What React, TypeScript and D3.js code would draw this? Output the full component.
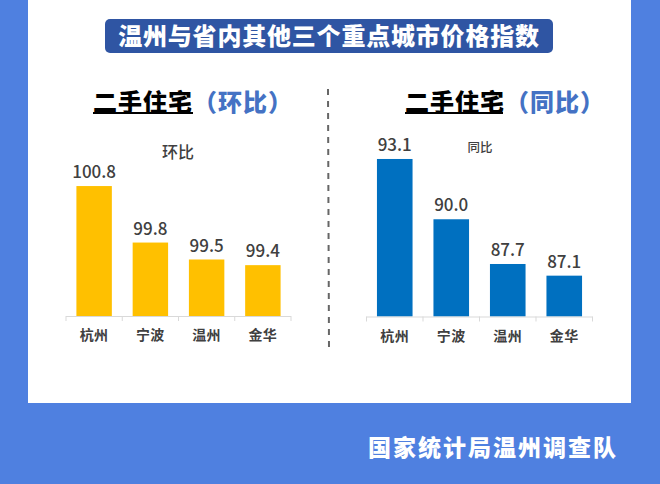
import React from "react";
import * as d3 from "d3";

const cities = ["杭州", "宁波", "温州", "金华"];
const hbValues = [100.8, 99.8, 99.5, 99.4];
const tbValues = [93.1, 90.0, 87.7, 87.1];
const hbDomain = [98.5, 101];
const tbDomain = [85, 93.5];
const titleText = "温州与省内其他三个重点城市价格指数";
const headerMain = "二手住宅";
const hbHeader = "（环比）";
const tbHeader = "（同比）";
const hbSub = "环比";
const tbSub = "同比";
const footerText = "国家统计局温州调查队";

const FONT = "'Noto Sans CJK SC', 'Noto Sans', sans-serif";

type PanelProps = {
  values: number[];
  domain: number[];
  x0: number;
  x1: number;
  yBase: number;
  yTop: number;
  color: string;
};

function BarPanel({ values, domain, x0, x1, yBase, yTop, color }: PanelProps) {
  const x = d3.scaleBand<string>().domain(cities).range([x0, x1]).paddingInner(0.37).paddingOuter(0.185);
  const y = d3.scaleLinear().domain(domain).range([yBase, yTop]);
  const step = x.step();
  const bounds = d3.range(cities.length + 1).map((i) => x0 + i * step);
  return (
    <g>
      {values.map((v, i) => (
        <rect key={i} x={x(cities[i])} y={y(v)} width={x.bandwidth()} height={yBase - y(v)} fill={color} />
      ))}
      <line x1={x0} x2={x1} y1={yBase + 0.5} y2={yBase + 0.5} stroke="#d9d9d9" strokeWidth={1} />
      {bounds.map((b, i) => (
        <line key={i} x1={b} x2={b} y1={yBase} y2={yBase + 5} stroke="#d9d9d9" strokeWidth={1} />
      ))}
      {values.map((v, i) => (
        <text key={i} x={(x(cities[i]) as number) + x.bandwidth() / 2} y={y(v) - 8} textAnchor="middle"
          fontFamily={FONT} fontSize={17} fontWeight={500} fill="#404040">{v.toFixed(1)}</text>
      ))}
      {cities.map((c, i) => (
        <text key={c} x={(x(c) as number) + x.bandwidth() / 2} y={yBase + 24} textAnchor="middle"
          fontFamily={FONT} fontSize={14} fontWeight={700} fill="#404040" letterSpacing={0.5}>{c}</text>
      ))}
    </g>
  );
}

export default function App() {
  return (
    <div style={{ position: "fixed", left: 0, top: 0 }}>
      <svg width={660} height={484} style={{ display: "block" }}>
        <rect x={0} y={0} width={660} height={484} fill="#4F80E0" />
        <rect x={28} y={0} width={603} height={403} fill="#ffffff" />
        <rect x={105} y={19} width={448} height={34} rx={5} fill="#2F55A3" />
        <text x={329} y={45} textAnchor="middle" fontFamily={FONT} fontSize={24} fontWeight={900}
          fill="#ffffff" letterSpacing={0.8}>{titleText}</text>

        <text x={93} y={111} fontFamily={FONT} fontSize={24} fontWeight={900} fill="#000" letterSpacing={1}>
          {headerMain}
          <tspan fill="#4472C4">{hbHeader}</tspan>
        </text>
        <line x1={93} x2={193} y1={113} y2={113} stroke="#000" strokeWidth={2} />

        <text x={405} y={111} fontFamily={FONT} fontSize={24} fontWeight={900} fill="#000" letterSpacing={1}>
          {headerMain}
          <tspan fill="#4472C4">{tbHeader}</tspan>
        </text>
        <line x1={405} x2={503} y1={113} y2={113} stroke="#000" strokeWidth={2} />

        <text x={178} y={158} textAnchor="middle" fontFamily={FONT} fontSize={16} fontWeight={500} fill="#404040">{hbSub}</text>
        <text x={480} y={152} textAnchor="middle" fontFamily={FONT} fontSize={12.5} fontWeight={500} fill="#404040">{tbSub}</text>

        <line x1={328} x2={329} y1={89} y2={350} stroke="#666" strokeWidth={2} strokeDasharray="6,6" />

        <BarPanel values={hbValues} domain={hbDomain} x0={66} x1={291} yBase={316} yTop={174.75} color="#FFC000" />
        <BarPanel values={tbValues} domain={tbDomain} x0={366.5} x1={592.5} yBase={316.5} yTop={151.2} color="#0070C0" />

        <text x={618} y={456} textAnchor="end" fontFamily={FONT} fontSize={23} fontWeight={900}
          fill="#ffffff" letterSpacing={2}>{footerText}</text>
      </svg>
    </div>
  );
}
